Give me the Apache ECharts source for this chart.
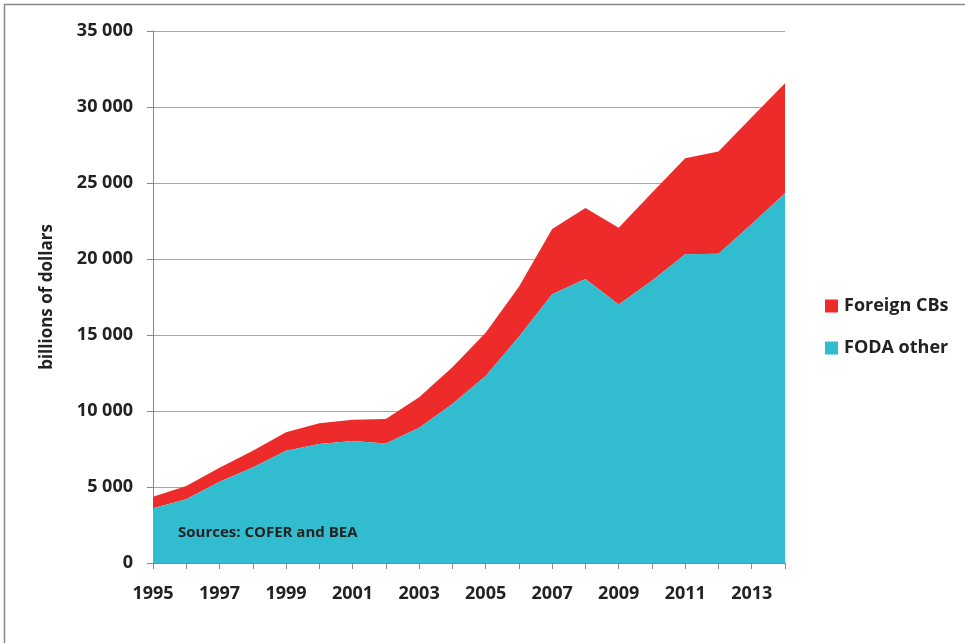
<!DOCTYPE html>
<html>
<head>
<meta charset="utf-8">
<script src="https://cdn.jsdelivr.net/npm/echarts@6/dist/echarts.min.js"></script>
<style>html,body{margin:0;padding:0;background:#fff}#c{width:965px;height:643px}</style>
</head>
<body>
<div id="c"></div>
<script>
const years = ['1995','1996','1997','1998','1999','2000','2001','2002','2003','2004','2005','2006','2007','2008','2009','2010','2011','2012','2013','2014'];
const fodaOther = [3600,4190,5350,6290,7390,7830,8030,7870,8900,10460,12300,14890,17680,18680,17000,18570,20310,20350,22300,24320];
const foreignCBs = [760,880,920,1100,1210,1360,1400,1600,2000,2420,2850,3290,4290,4680,5060,5790,6320,6730,7020,7250];
const yTicks = [0,5000,10000,15000,20000,25000,30000,35000];

const FONT = '"Open Sans"';
const chart = echarts.init(document.getElementById('c'), null, {renderer:'canvas'});
const fmt = v => String(v).replace(/\B(?=(\d{3})+(?!\d))/g, ' ');
chart.setOption({
  animation:false,
  backgroundColor:'#fff',
  textStyle:{fontFamily:FONT},
  grid:{left:153,right:180,top:31,bottom:80},
  legend:{
    orient:'vertical', left:820, top:292, itemGap:24,
    icon:'rect', itemWidth:13, itemHeight:13,
    data:['Foreign CBs','FODA other'],
    textStyle:{fontFamily:FONT,fontWeight:'bold',fontSize:18,color:'#222',padding:[0,0,0,1]}
  },
  xAxis:{
    type:'category', data:years, boundaryGap:false,
    axisLine:{lineStyle:{color:'#888',width:1}},
    axisTick:{show:true,interval:0,length:6,lineStyle:{color:'#888'}},
    axisLabel:{interval:1,fontFamily:FONT,fontWeight:'bold',fontSize:18,color:'#222',margin:22},
    splitLine:{show:false}
  },
  yAxis:{
    type:'value', min:yTicks[0], max:yTicks[yTicks.length-1], interval:5000,
    name:'billions of dollars', nameLocation:'middle', nameGap:97,
    nameTextStyle:{fontFamily:FONT,fontWeight:'bold',fontSize:17,color:'#222'},
    axisLine:{show:true,lineStyle:{color:'#888',width:1}},
    axisTick:{show:true,length:6,lineStyle:{color:'#888'}},
    axisLabel:{formatter:fmt,fontFamily:FONT,fontWeight:'bold',fontSize:18,color:'#222',margin:20},
    splitLine:{show:true,lineStyle:{color:'#a6a6a6',width:1.2}}
  },
  series:[
    {name:'FODA other',type:'line',stack:'t',data:fodaOther,showSymbol:false,symbol:'none',
     lineStyle:{width:0},itemStyle:{color:'#31BDCF'},areaStyle:{color:'#31BDCF',opacity:1},z:3},
    {name:'Foreign CBs',type:'line',stack:'t',data:foreignCBs,showSymbol:false,symbol:'none',
     lineStyle:{width:0},itemStyle:{color:'#EE2B2B'},areaStyle:{color:'#EE2B2B',opacity:1},z:2}
  ],
  graphic:[
    {type:'rect',silent:true,shape:{x:4.5,y:4.5,width:1200,height:900},style:{fill:'none',stroke:'#8a8a8a',lineWidth:1.5},z:-1},
    {type:'text',left:178,top:525,z:100,style:{text:'Sources: COFER and BEA',font:'bold 15px '+FONT,fill:'#222'}}
  ]
});
</script>
</body>
</html>
